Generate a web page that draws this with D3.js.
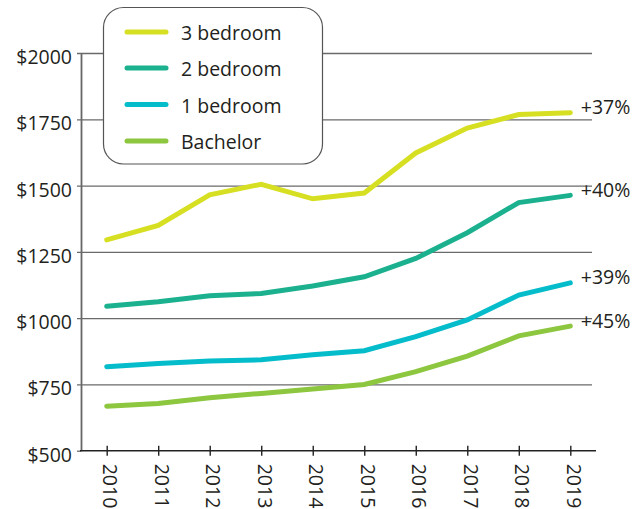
<!DOCTYPE html>
<html>
<head>
<meta charset="utf-8">
<script src="https://cdn.jsdelivr.net/npm/d3@7"></script>
<style>
  html, body { margin: 0; padding: 0; background: #fff; }
  svg { display: block; }
  text { font-family: "Open Sans", "Noto Sans", sans-serif; fill: #231f20; }
</style>
</head>
<body>
<svg id="chart" width="641" height="509"></svg>
<script>
const years = [2010, 2011, 2012, 2013, 2014, 2015, 2016, 2017, 2018, 2019];
const threeBedroom = [1295, 1350, 1465, 1505, 1450, 1472, 1623, 1717, 1768, 1775];
const twoBedroom   = [1045, 1062, 1084, 1093, 1121, 1156, 1225, 1322, 1436, 1463];
const oneBedroom   = [817, 829, 838, 843, 862, 877, 930, 993, 1087, 1133];
const bachelor     = [668, 678, 700, 716, 733, 750, 798, 857, 933, 970];
const seriesNames  = ["3 bedroom", "2 bedroom", "1 bedroom", "Bachelor"];
const seriesColors = ["#d7df23", "#1bb18f", "#05bccb", "#8dc63f"];
const changeLabels = ["+37%", "+40%", "+39%", "+45%"];
const yTicks = [500, 750, 1000, 1250, 1500, 1750, 2000];
const yTickLabels = ["$500", "$750", "$1000", "$1250", "$1500", "$1750", "$2000"];

const seriesValues = [threeBedroom, twoBedroom, oneBedroom, bachelor];

const svg = d3.select("#chart");
const axisX = 81, plotRight = 592, axisRight = 596;
const fontFam = '"Open Sans", "Noto Sans", sans-serif';

const x = d3.scaleLinear().domain([2010, 2019]).range([106.7, 570.3]);
const y = d3.scaleLinear().domain([500, 2000]).range([450.7, 53]);

// Y axis with gridlines
const yAxis = d3.axisLeft(y)
  .tickValues(yTicks)
  .tickFormat((d, i) => yTickLabels[i])
  .tickSizeInner(-(plotRight - axisX))
  .tickSizeOuter(0)
  .tickPadding(9);

const gy = svg.append("g").attr("transform", `translate(${axisX},0)`).call(yAxis);
gy.select(".domain").attr("stroke", "#666").attr("stroke-width", 1.8);
gy.selectAll(".tick line")
  .attr("x1", -4)
  .attr("stroke", "#6a6a6a")
  .attr("stroke-width", 1.3);
gy.selectAll(".tick text")
  .attr("x", -9)
  .attr("dy", 0)
  .attr("y", 10.5)
  .style("font-size", "19.5px")
  .style("font-family", fontFam)
  .attr("fill", "#231f20");
gy.selectAll(".tick").filter(d => d === 500).select("line").attr("x2", 0);

// X axis
const xAxis = d3.axisBottom(x)
  .tickValues(years)
  .tickFormat(d3.format("d"))
  .tickSizeInner(5)
  .tickSizeOuter(0);
const gx = svg.append("g").attr("transform", `translate(0,${y(500)})`).call(xAxis);
gx.select(".domain").remove();
gx.selectAll(".tick line")
  .attr("y1", -5).attr("y2", 5)
  .attr("stroke", "#222").attr("stroke-width", 1.4);
gx.selectAll(".tick text")
  .attr("transform", "rotate(90)")
  .attr("text-anchor", "start")
  .attr("x", 13)
  .attr("y", 4)
  .attr("dy", 0)
  .style("font-size", "19.5px")
  .style("font-family", fontFam)
  .attr("fill", "#231f20");
gx.append("line")
  .attr("x1", axisX - 1).attr("x2", axisRight)
  .attr("y1", 0).attr("y2", 0)
  .attr("stroke", "#222").attr("stroke-width", 1.6);

// Lines
const line = d3.line()
  .x((d, i) => x(years[i]))
  .y(d => y(d));

seriesValues.forEach((vals, s) => {
  svg.append("path")
    .datum(vals)
    .attr("d", line)
    .attr("fill", "none")
    .attr("stroke", seriesColors[s])
    .attr("stroke-width", 5)
    .attr("stroke-linecap", "round")
    .attr("stroke-linejoin", "miter");
  const last = vals[vals.length - 1];
  svg.append("text")
    .attr("x", x(2019) + 10.5)
    .attr("y", y(last) + 1.5)
    .style("font-size", "19.5px")
    .text(changeLabels[s]);
});

// Legend
const legend = svg.append("g");
legend.append("rect")
  .attr("x", 103.5).attr("y", 7.5)
  .attr("width", 219).attr("height", 156.5)
  .attr("rx", 20).attr("ry", 20)
  .attr("fill", "#fff")
  .attr("stroke", "#555")
  .attr("stroke-width", 1.2);
const legendY = [32, 68, 104.5, 141];
seriesNames.forEach((name, i) => {
  legend.append("line")
    .attr("x1", 127).attr("x2", 166)
    .attr("y1", legendY[i]).attr("y2", legendY[i])
    .attr("stroke", seriesColors[i])
    .attr("stroke-width", 5)
    .attr("stroke-linecap", "round");
  legend.append("text")
    .attr("x", 181)
    .attr("y", legendY[i] + 8)
    .style("font-size", "19.5px")
    .text(name);
});
</script>
</body>
</html>
